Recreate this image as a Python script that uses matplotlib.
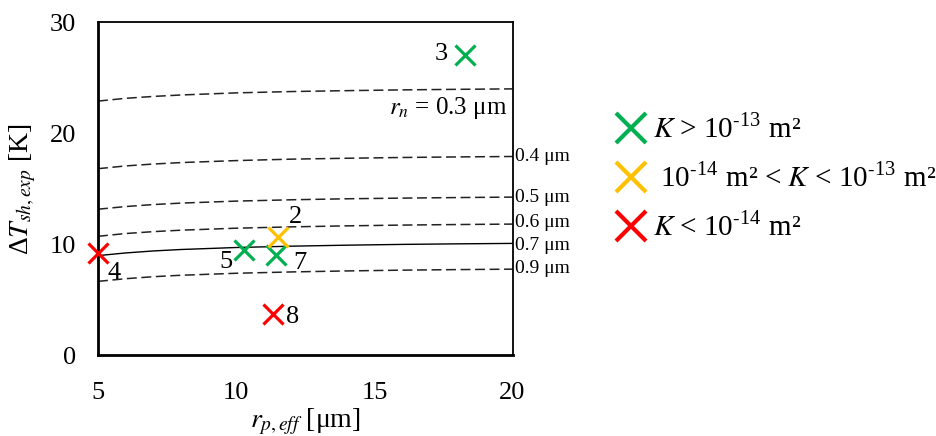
import matplotlib
matplotlib.use("Agg")
import matplotlib.pyplot as plt
from matplotlib.lines import Line2D

plt.rcParams['font.family'] = ['Liberation Serif', 'DejaVu Serif']
plt.rcParams['mathtext.fontset'] = 'stix'

# curves: r_p,eff grid and Delta T for each r_n
r_p = [5, 6, 7, 8, 10, 12, 14, 16, 18, 20]
curve_rn = ['0.3', '0.4', '0.5', '0.6', '0.7', '0.9']
dT_03 = [22.90, 23.15, 23.32, 23.45, 23.64, 23.76, 23.84, 23.91, 23.96, 24.00]
dT_04 = [16.81, 17.06, 17.23, 17.36, 17.54, 17.67, 17.75, 17.82, 17.87, 17.91]
dT_05 = [13.16, 13.40, 13.58, 13.71, 13.89, 14.01, 14.10, 14.16, 14.21, 14.25]
dT_06 = [10.72, 10.97, 11.14, 11.27, 11.45, 11.57, 11.66, 11.73, 11.78, 11.82]
dT_07 = [8.98, 9.22, 9.40, 9.53, 9.71, 9.83, 9.92, 9.99, 10.04, 10.08]
dT_09 = [6.66, 6.90, 7.08, 7.21, 7.39, 7.51, 7.60, 7.67, 7.72, 7.76]

# experimental points
pt_ids = ['3', '2', '5', '7', '4', '8']
pt_x = [18.28, 11.50, 10.29, 11.44, 5.00, 11.32]
pt_y = [27.05, 10.69, 9.49, 9.04, 9.19, 3.69]
pt_cls = ['hi', 'mid', 'hi', 'hi', 'lo', 'lo']

colors = {'hi': '#00B050', 'mid': '#FFC000', 'lo': '#FF0000'}
legend_labels = {
    'hi': r'$K$ > 10$^{\mathregular{\text{-}13}}$ m²',
    'mid': r' 10$^{\mathregular{\text{-}14}}$ m² < $K$ < 10$^{\mathregular{\text{-}13}}$ m²',
    'lo': r'$K$ < 10$^{\mathregular{\text{-}14}}$ m²',
}

fig = plt.figure(figsize=(9.36, 4.36), dpi=100)
ax = fig.add_axes([0.1047, 0.1851, 0.4429, 0.7638])

curves = [dT_03, dT_04, dT_05, dT_06, dT_07, dT_09]
for rn, yv in zip(curve_rn, curves):
    if rn == '0.7':
        ax.plot(r_p, yv, color='black', lw=1.0)
    else:
        ax.plot(r_p, yv, color='#222222', lw=1.1, dashes=(6.5, 3))

for cls in ['hi', 'mid', 'lo']:
    xs = [x for x, c in zip(pt_x, pt_cls) if c == cls]
    ys = [y for y, c in zip(pt_y, pt_cls) if c == cls]
    ax.plot(xs, ys, linestyle='none', marker='x', ms=14, mew=2.3,
            color=colors[cls], clip_on=False, zorder=5)

# point labels
offsets = {'3': (-24, 1), '2': (18, 20), '5': (-18, -12), '7': (24, -8),
           '4': (16, -20), '8': (20, -3)}
for pid, x, y in zip(pt_ids, pt_x, pt_y):
    dx, dy = offsets[pid]
    ax.annotate(pid, (x, y), xytext=(dx, dy), textcoords='offset pixels',
                ha='center', va='center', fontsize=19)

# curve labels
ax.text(19.8, dT_03[-1] - 0.55, r'$r_n$ = 0.3 μm', ha='right', va='top', fontsize=18)
lab_y = {'0.4': dT_04[-1], '0.5': dT_05[-1], '0.6': dT_06[-1] + 0.1,
         '0.7': dT_07[-1] - 0.15, '0.9': dT_09[-1] + 0.05}
for rn in ['0.4', '0.5', '0.6', '0.7', '0.9']:
    ax.text(20.1, lab_y[rn], rn + ' μm', ha='left', va='center', fontsize=14,
            clip_on=False)

ax.set_xlim(5, 20)
ax.set_ylim(0, 30)
ax.set_xticks([5, 10, 15, 20])
ax.set_yticks([0, 10, 20, 30])
ax.tick_params(length=0, labelsize=19)
ax.tick_params(axis='x', pad=19)
ax.tick_params(axis='y', pad=16)
for s in ['left', 'bottom']:
    ax.spines[s].set_linewidth(2.0)
for s in ['top', 'right']:
    ax.spines[s].set_linewidth(1.3)

ax.set_xlabel(r'$r_{p,eff}$ [μm]', fontsize=20, labelpad=2)
ax.set_ylabel(r'Δ$T_{sh,exp}$ [K]', fontsize=20, labelpad=8)

handles = [Line2D([], [], linestyle='none', marker='x', ms=21, mew=3,
                  color=colors[c]) for c in ['hi', 'mid', 'lo']]
fig.legend(handles, [legend_labels[c] for c in ['hi', 'mid', 'lo']],
           loc='center left', bbox_to_anchor=(0.66, 0.59), frameon=False,
           fontsize=21, handlelength=0.9, handletextpad=0.3, labelspacing=0.68,
           borderaxespad=0, borderpad=0)

fig.savefig('out.png', dpi=100)
